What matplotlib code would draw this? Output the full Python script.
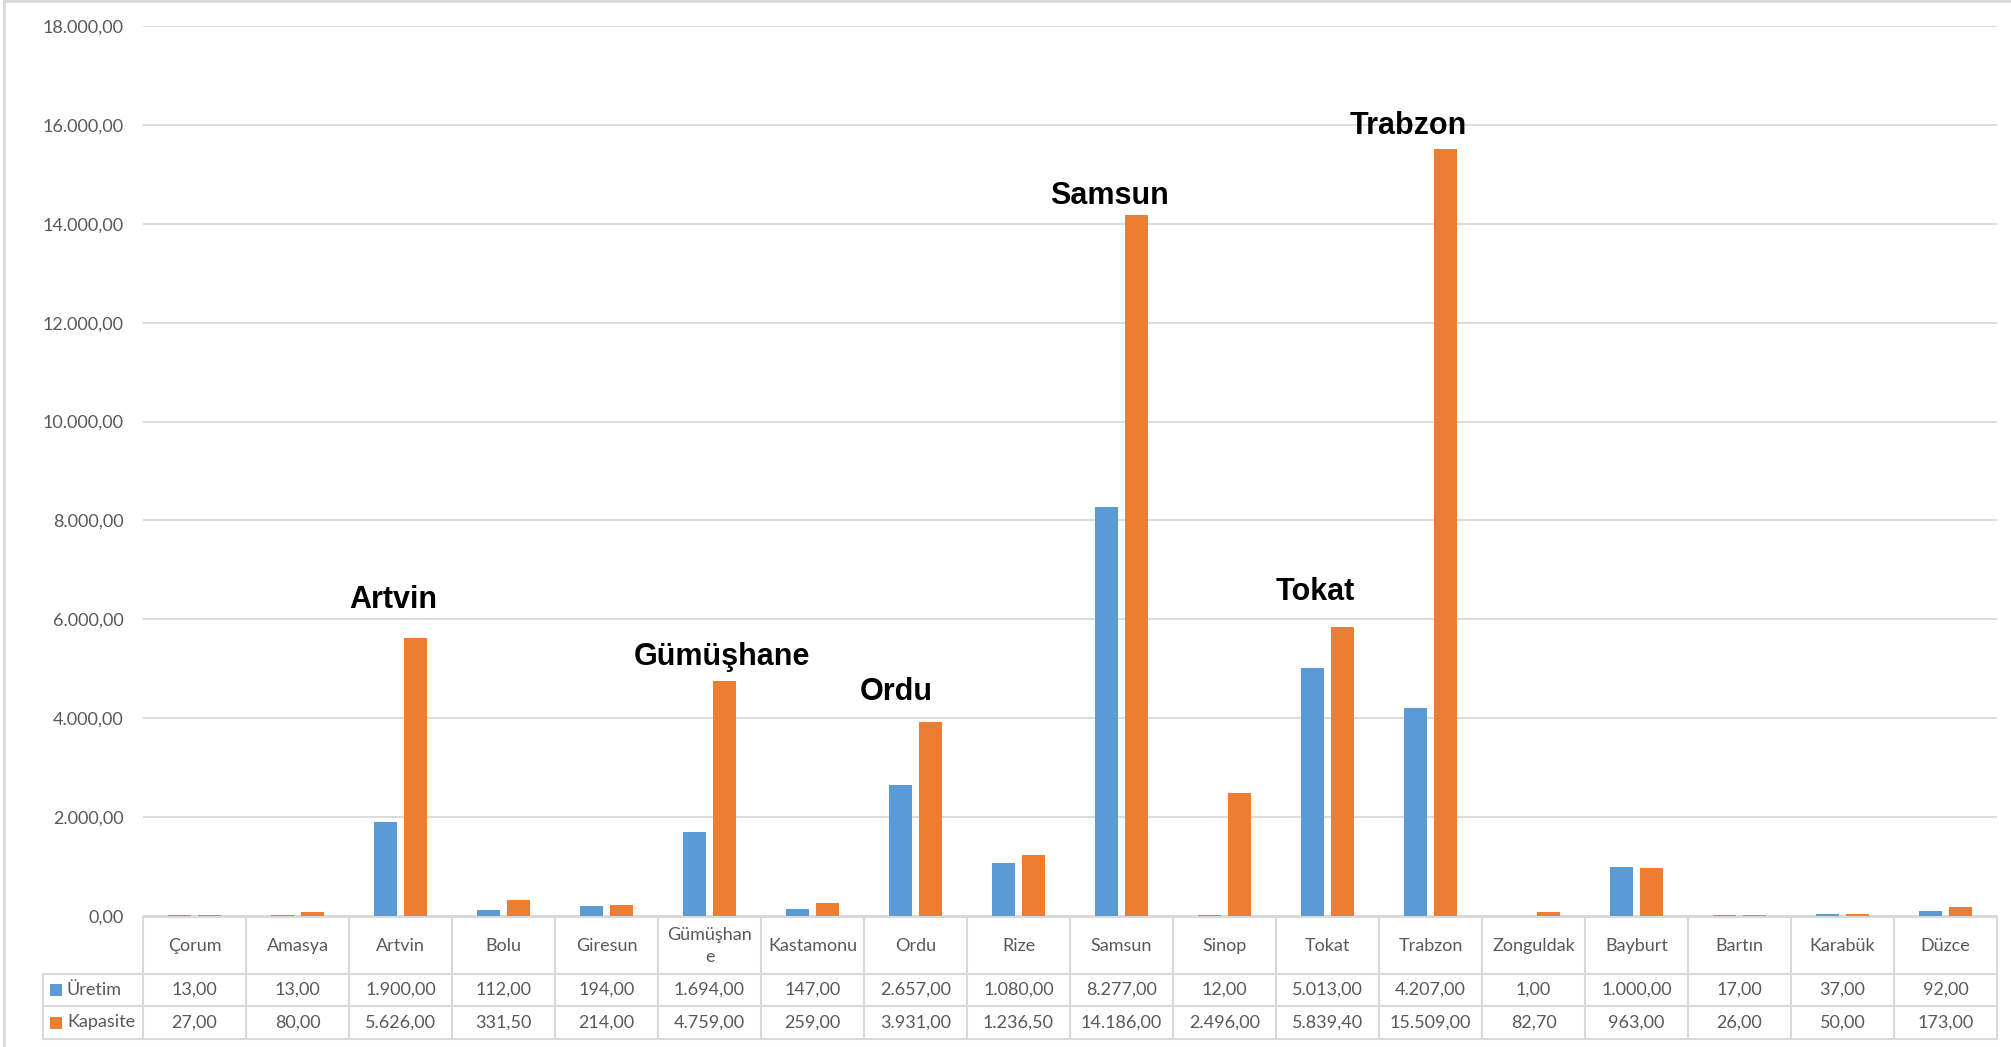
import matplotlib
matplotlib.use("Agg")
import matplotlib.pyplot as plt
import numpy as np
from matplotlib.patches import Rectangle
from matplotlib.lines import Line2D
import matplotlib.transforms as mtransforms

# ---------------- data ----------------
categories = ["Çorum", "Amasya", "Artvin", "Bolu", "Giresun", "Gümüşhane",
              "Kastamonu", "Ordu", "Rize", "Samsun", "Sinop", "Tokat",
              "Trabzon", "Zonguldak", "Bayburt", "Bartın", "Karabük", "Düzce"]
uretim = [13, 13, 1900, 112, 194, 1694, 147, 2657, 1080, 8277, 12, 5013,
          4207, 1, 1000, 17, 37, 92]
kapasite = [27, 80, 5626, 331.5, 214, 4759, 259, 3931, 1236.5, 14186, 2496,
            5839.4, 15509, 82.7, 963, 26, 50, 173]
series_names = ["Üretim", "Kapasite"]
yticks = list(range(0, 18001, 2000))
highlight = ["Artvin", "Gümüşhane", "Ordu", "Samsun", "Tokat", "Trabzon"]

# ---------------- style ----------------
W, H = 2011, 1047
DPI = 100
BLUE = "#5B9BD5"
ORANGE = "#ED7D31"
GRID = "#D9D9D9"
TXT = "#595959"
FONT = ["Lato", "DejaVu Sans"]
FS = 13


def tr_fmt(v):
    s = f"{v:,.2f}"
    return s.replace(",", "X").replace(".", ",").replace("X", ".")


fig = plt.figure(figsize=(W / DPI, H / DPI), dpi=DPI)
fig.patch.set_facecolor("white")

# plot area in pixel geometry
left_px, right_px, top_px, zero_px = 143, 1997, 26, 916
ax = fig.add_axes([left_px / W, 1 - zero_px / H,
                   (right_px - left_px) / W, (zero_px - top_px) / H])
n = len(categories)
x = np.arange(n)
bw = 0.223
off = 0.143
ax.bar(x - off, uretim, width=bw, color=BLUE, zorder=3)
ax.bar(x + off, kapasite, width=bw, color=ORANGE, zorder=3)
ax.set_xlim(-0.5, n - 0.5)
ax.set_ylim(0, 18000)
ax.set_yticks(yticks)
ax.set_yticklabels([tr_fmt(v) for v in yticks], fontsize=FS, color=TXT,
                   family=FONT)
ax.tick_params(axis="y", length=0, pad=14)
ax.set_xticks([])
ax.grid(axis="y", color=GRID, linewidth=1.3, zorder=0)
for sp in ax.spines.values():
    sp.set_visible(False)
ax.set_facecolor("none")

# annotations (name, x-offset within category, baseline value)
ann_pos = {"Artvin": (-0.073, 6229), "Gümüşhane": (0.121, 5076),
           "Ordu": (-0.19, 4369), "Samsun": (-0.121, 14400),
           "Tokat": (-0.116, 6391), "Trabzon": (-0.218, 15816)}
for name in highlight:
    dx, yv = ann_pos[name]
    ax.text(categories.index(name) + dx, yv, name, ha="center", va="baseline",
            fontsize=22, fontweight="bold", family=["Liberation Sans", "DejaVu Sans"],
            color="black", zorder=5)

# overlay axes in pixel coordinates for the data table
ov = fig.add_axes([0, 0, 1, 1])
ov.set_xlim(0, W)
ov.set_ylim(H, 0)
ov.axis("off")
ov.patch.set_alpha(0)
blend = mtransforms.blended_transform_factory(ax.transData, ov.transData)

y_hdr_top, y_hdr_bot, y_r1_bot, y_r2_bot = 917, 974, 1006, 1039
leg_left = 43
lw_t = 1.5

# horizontal table lines
ov.add_line(Line2D([left_px, right_px], [y_hdr_top, y_hdr_top], color=GRID, lw=lw_t))
for yy in (y_hdr_bot, y_r1_bot, y_r2_bot):
    ov.add_line(Line2D([leg_left, right_px], [yy, yy], color=GRID, lw=lw_t))
# vertical table lines
for k in range(n + 1):
    line = Line2D([k - 0.5, k - 0.5], [y_hdr_top, y_r2_bot], color=GRID,
                  lw=lw_t, transform=blend, clip_on=False)
    ov.add_line(line)
ov.add_line(Line2D([leg_left, leg_left], [y_hdr_bot, y_r2_bot], color=GRID, lw=lw_t))

# header texts
for i, c in enumerate(categories):
    lab = c if c != "Gümüşhane" else "Gümüşhan\ne"
    ov.text(i, 946, lab, transform=blend, ha="center", va="center",
            fontsize=FS, color=TXT, family=FONT, linespacing=1.5)

# value rows
row_centers = [(y_hdr_bot + y_r1_bot) / 2, (y_r1_bot + y_r2_bot) / 2]
for vals, yc in zip([uretim, kapasite], row_centers):
    for i, v in enumerate(vals):
        ov.text(i, yc, tr_fmt(v), transform=blend, ha="center", va="center",
                fontsize=FS, color=TXT, family=FONT)

# legend keys in the table
for name, col, yc in zip(series_names, [BLUE, ORANGE], row_centers):
    ov.add_patch(Rectangle((50, yc - 6), 12, 12, color=col, lw=0))
    ov.text(67, yc, name, ha="left", va="center", fontsize=FS, color=TXT,
            family=FONT)

# chart border (left and top visible)
ov.add_line(Line2D([4, 4], [1, H], color=GRID, lw=2))
ov.add_line(Line2D([4, W], [1, 1], color=GRID, lw=2))

fig.savefig("out.png", dpi=DPI, facecolor="white")
